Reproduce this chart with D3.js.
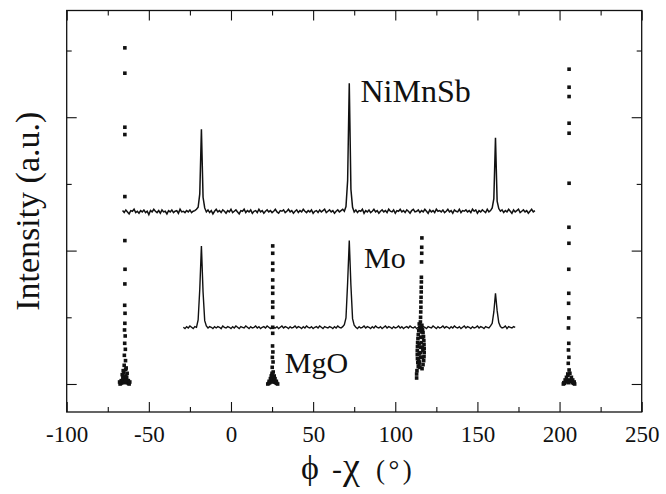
<!DOCTYPE html>
<html>
<head>
<meta charset="utf-8">
<script src="https://cdn.jsdelivr.net/npm/d3@7"></script>
<style>
  body { margin: 0; background: #fff; }
  svg { display: block; }
  svg text { font-family: "Liberation Serif", "DejaVu Serif", serif; fill: #111; }
</style>
</head>
<body>
<div class="chart"></div>
<script>
// NiMnSb scan: phi-chi from -66 to 185 in 1 degree steps
var niStart = -66, niStep = 1;
var niMnSb = [
  2.60, 2.57, 2.61, 2.58, 2.55, 2.60, 2.59, 2.62, 2.57, 2.59,
  2.56, 2.60, 2.58, 2.61, 2.57, 2.59, 2.54, 2.60, 2.58, 2.62,
  2.59, 2.57, 2.60, 2.56, 2.61, 2.58, 2.59, 2.55, 2.60, 2.58,
  2.61, 2.57, 2.59, 2.60, 2.56, 2.62, 2.58, 2.59, 2.57, 2.60,
  2.58, 2.61, 2.57, 2.59, 2.60, 2.62, 2.65, 2.85, 3.82, 2.80,
  2.64, 2.58, 2.61, 2.57, 2.60, 2.55, 2.59, 2.62, 2.58, 2.60,
  2.57, 2.61, 2.59, 2.56, 2.60, 2.58, 2.62, 2.57, 2.59, 2.61,
  2.58, 2.55, 2.60, 2.59, 2.62, 2.57, 2.60, 2.58, 2.61, 2.56,
  2.59, 2.60, 2.57, 2.62, 2.58, 2.60, 2.56, 2.59, 2.61, 2.58,
  2.60, 2.57, 2.59, 2.62, 2.58, 2.56, 2.60, 2.59, 2.61, 2.57,
  2.59, 2.62, 2.58, 2.60, 2.56, 2.59, 2.61, 2.57, 2.60, 2.58,
  2.62, 2.59, 2.57, 2.60, 2.58, 2.61, 2.56, 2.59, 2.60, 2.57,
  2.61, 2.58, 2.60, 2.62, 2.57, 2.59, 2.61, 2.58, 2.60, 2.56,
  2.59, 2.61, 2.58, 2.60, 2.62, 2.59, 2.66, 3.05, 4.51, 2.92,
  2.65, 2.58, 2.61, 2.57, 2.60, 2.59, 2.62, 2.56, 2.60, 2.58,
  2.61, 2.57, 2.59, 2.62, 2.58, 2.60, 2.56, 2.59, 2.61, 2.58,
  2.60, 2.57, 2.62, 2.59, 2.58, 2.61, 2.56, 2.60, 2.59, 2.62,
  2.58, 2.60, 2.57, 2.61, 2.59, 2.56, 2.60, 2.62, 2.58, 2.59,
  2.61, 2.57, 2.60, 2.58, 2.62, 2.59, 2.56, 2.61, 2.58, 2.60,
  2.57, 2.62, 2.59, 2.60, 2.58, 2.61, 2.57, 2.59, 2.62, 2.58,
  2.60, 2.56, 2.61, 2.59, 2.58, 2.62, 2.57, 2.60, 2.59, 2.61,
  2.58, 2.60, 2.57, 2.62, 2.59, 2.61, 2.56, 2.60, 2.58, 2.61,
  2.59, 2.57, 2.62, 2.58, 2.60, 2.64, 2.78, 3.69, 2.74, 2.63,
  2.59, 2.61, 2.57, 2.60, 2.58, 2.62, 2.59, 2.56, 2.61, 2.58,
  2.60, 2.62, 2.57, 2.59, 2.61, 2.58, 2.60, 2.56, 2.59, 2.62,
  2.58, 2.60
];

// Mo scan: phi-chi from -29 to 173 in 1 degree steps
var moStart = -29, moStep = 1;
var mo = [
  0.85, 0.83, 0.86, 0.84, 0.87, 0.85, 0.83, 0.86, 0.85, 0.96,
  1.42, 2.07, 1.38, 0.95, 0.87, 0.84, 0.86, 0.85, 0.83, 0.86,
  0.84, 0.86, 0.85, 0.83, 0.87, 0.85, 0.84, 0.86, 0.85, 0.83,
  0.86, 0.84, 0.87, 0.85, 0.83, 0.86, 0.85, 0.84, 0.87, 0.85,
  0.83, 0.86, 0.84, 0.85, 0.87, 0.84, 0.86, 0.83, 0.85, 0.86,
  0.84, 0.87, 0.85, 0.83, 0.86, 0.85, 0.84, 0.86, 0.83, 0.85,
  0.87, 0.84, 0.86, 0.85, 0.83, 0.86, 0.84, 0.85, 0.87, 0.84,
  0.86, 0.85, 0.83, 0.86, 0.84, 0.87, 0.85, 0.84, 0.86, 0.83,
  0.85, 0.86, 0.84, 0.87, 0.85, 0.83, 0.86, 0.85, 0.84, 0.86,
  0.85, 0.83, 0.86, 0.84, 0.87, 0.85, 0.84, 0.86, 0.89, 0.99,
  1.52, 2.15, 1.48, 0.98, 0.88, 0.85, 0.83, 0.86, 0.84, 0.85,
  0.87, 0.84, 0.86, 0.85, 0.83, 0.86, 0.84, 0.87, 0.85, 0.84,
  0.86, 0.83, 0.85, 0.87, 0.84, 0.86, 0.85, 0.83, 0.86, 0.84,
  0.85, 0.87, 0.84, 0.86, 0.83, 0.85, 0.86, 0.84, 0.87, 0.85,
  0.84, 0.86, 0.83, 0.85, 0.87, 0.84, 0.86, 0.85, 0.83, 0.86,
  0.85, 0.84, 0.87, 0.85, 0.83, 0.86, 0.84, 0.85, 0.87, 0.84,
  0.86, 0.85, 0.83, 0.86, 0.84, 0.87, 0.85, 0.84, 0.86, 0.83,
  0.85, 0.87, 0.84, 0.86, 0.85, 0.83, 0.86, 0.84, 0.85, 0.87,
  0.84, 0.86, 0.85, 0.83, 0.86, 0.85, 0.84, 0.87, 0.91, 1.08,
  1.36, 1.10, 0.92, 0.86, 0.84, 0.85, 0.87, 0.83, 0.86, 0.85,
  0.84, 0.86, 0.85
];

// MgO substrate peaks (square symbols)
var mgoPhi = [
  // near -65
  -64.6, -64.6, -64.6, -64.6, -64.6, -64.6, -64.5, -64.6, -64.7, -64.5,
  -64.6, -64.8, -64.4, -64.7, -64.3, -64.9, -64.2, -65.0, -64.1, -65.2,
  -64.0, -65.5, -63.7, -66.0, -63.3, -66.5, -62.9, -67.0, -62.5, -67.5, -62.0,
  -66.8, -65.8, -63.5, -62.5, -67.8, -61.6, -65.0, -64.0, -66.2, -63.2, -65.6, -63.8,
  // near 25
  25.4, 25.4, 25.4, 25.4, 25.4, 25.4, 25.4, 25.4, 25.4, 25.4,
  25.4, 25.4, 25.3, 25.5, 25.2, 25.6, 25.1, 25.7, 24.9, 25.9,
  24.6, 26.2, 24.2, 26.6, 23.6, 27.2, 23.0, 27.8, 22.4, 28.4,
  24.0, 26.8, 24.5, 26.3, 25.0, 23.2, 27.6, 25.4,
  // near 115
  116.2, 116.1, 116.1, 116.0, 115.9, 115.9, 115.8, 115.8, 115.7, 115.6,
  115.6, 115.5, 115.4, 115.3, 114.6, 116.2, 115.0, 116.6, 114.3, 116.9,
  114.0, 117.2, 113.8, 117.4, 113.6, 117.5, 113.5, 117.6, 113.4, 117.6,
  113.4, 117.5, 113.5, 117.3, 113.7, 116.9, 114.0, 116.3, 113.2, 113.0,
  113.0, 115.5, 115.5, 115.5, 115.8, 115.2, 114.8, 116.2,
  114.5, 116.5, 114.5, 116.5, 114.5, 116.5, 115.0, 115.5, 114.2, 116.8,
  // near 205
  205.8, 205.8, 205.8, 205.8, 205.8, 205.8, 205.7, 205.7, 205.6, 205.6,
  205.5, 205.6, 205.4, 205.6, 205.4, 205.7, 205.3, 205.8, 205.1, 206.0,
  204.6, 207.0, 203.8, 207.8, 203.0, 208.6, 202.3, 209.2, 205.5,
  204.2, 207.2, 203.4, 208.0, 205.0, 206.3, 202.6, 208.9
];
var mgoInt = [
  5.04, 4.66, 3.85, 3.74, 2.81, 2.15, 1.72, 1.50, 1.18, 1.06,
  0.91, 0.81, 0.72, 0.61, 0.52, 0.43, 0.35, 0.28, 0.22, 0.17,
  0.12, 0.08, 0.06, 0.04, 0.03, 0.02, 0.02, 0.01, 0.01, 0.00, 0.00,
  0.05, 0.10, 0.10, 0.05, 0.03, 0.03, 0.02, 0.05, 0.14, 0.16, 0.20, 0.24,
  2.07, 1.96, 1.81, 1.71, 1.56, 1.45, 1.36, 1.23, 1.15, 1.00,
  0.85, 0.76, 0.57, 0.48, 0.40, 0.33, 0.25, 0.18, 0.13, 0.10,
  0.07, 0.06, 0.04, 0.03, 0.02, 0.02, 0.01, 0.01, 0.00, 0.00,
  0.08, 0.08, 0.12, 0.12, 0.16, 0.04, 0.04, 0.03,
  2.19, 2.05, 1.96, 1.83, 1.60, 1.53, 1.45, 1.38, 1.30, 1.23,
  1.15, 1.08, 1.00, 0.93, 0.90, 0.88, 0.85, 0.82, 0.80, 0.77,
  0.74, 0.71, 0.68, 0.65, 0.62, 0.59, 0.56, 0.53, 0.50, 0.47,
  0.44, 0.41, 0.38, 0.35, 0.32, 0.29, 0.26, 0.23, 0.20, 0.15,
  0.09, 0.70, 0.55, 0.40, 0.62, 0.47, 0.33, 0.78,
  0.60, 0.55, 0.45, 0.40, 0.30, 0.70, 0.25, 0.80, 0.36, 0.50,
  4.72, 4.45, 4.31, 3.91, 3.76, 3.01, 2.35, 2.11, 1.72, 1.36,
  1.21, 0.99, 0.84, 0.61, 0.51, 0.40, 0.31, 0.21, 0.13, 0.06,
  0.05, 0.04, 0.03, 0.02, 0.01, 0.01, 0.00, 0.00, 0.02,
  0.10, 0.10, 0.06, 0.06, 0.15, 0.16, 0.02, 0.03
];

var xMajor = [-100, -50, 0, 50, 100, 150, 200, 250];
var xMinor = [-75, -25, 25, 75, 125, 175, 225];
var yMajor = [0, 2, 4];
var yMinor = [1, 3, 5];

var labels = [
  {text: "NiMnSb", x: 78.8, y: 4.23, size: 32},
  {text: "Mo", x: 81, y: 1.74, size: 30},
  {text: "MgO", x: 32.8, y: 0.16, size: 30}
];

var serif = '"Liberation Serif", "DejaVu Serif", serif';

var width = 666, height = 494;
var margin = {top: 10.5, right: 24.3, bottom: 82, left: 66.7};

var svg = d3.select(".chart").append("svg")
    .attr("width", width)
    .attr("height", height);

var x = d3.scaleLinear()
    .domain([-100, 250])
    .range([margin.left, width - margin.right]);

var y = d3.scaleLinear()
    .domain([-0.42, 5.6])
    .range([height - margin.bottom, margin.top]);

// build point lists for the scans
function scan(start, step, values) {
    return values.map(function (v, i) { return [start + i * step, v]; });
}

var line = d3.line()
    .x(function (d) { return x(d[0]); })
    .y(function (d) { return y(d[1]); });

svg.append("path")
    .datum(scan(niStart, niStep, niMnSb))
    .attr("d", line)
    .attr("fill", "none")
    .attr("stroke", "#111")
    .attr("stroke-width", 1.5);

svg.append("path")
    .datum(scan(moStart, moStep, mo))
    .attr("d", line)
    .attr("fill", "none")
    .attr("stroke", "#111")
    .attr("stroke-width", 1.4);

// MgO squares
var sq = 3.6;
svg.append("g").selectAll("rect")
    .data(mgoPhi.map(function (p, i) { return [p, mgoInt[i]]; }))
    .enter().append("rect")
    .attr("x", function (d) { return x(d[0]) - sq / 2; })
    .attr("y", function (d) { return y(d[1]) - sq / 2; })
    .attr("width", sq)
    .attr("height", sq)
    .attr("fill", "#111");

// Axes, ticks pointing inward on all four sides
var yb = y.range()[0], yt = y.range()[1];
var xl = x.range()[0], xr = x.range()[1];

function clean(g) {
    g.attr("font-family", serif);
    g.select(".domain").remove();
    g.selectAll("line").attr("stroke", "#111").attr("stroke-width", 1.1);
}

svg.append("g")
    .attr("transform", "translate(0," + yb + ")")
    .call(d3.axisBottom(x).tickValues(xMajor).tickSize(-10).tickSizeOuter(0)
        .tickPadding(14).tickFormat(function (d) { return String(d); }))
    .call(clean)
    .selectAll("text")
    .attr("font-family", serif)
    .attr("font-size", 23)
    .attr("fill", "#111");

svg.append("g")
    .attr("transform", "translate(0," + yb + ")")
    .call(d3.axisBottom(x).tickValues(xMinor).tickSize(-5).tickFormat(""))
    .call(clean);

svg.append("g")
    .attr("transform", "translate(0," + yt + ")")
    .call(d3.axisTop(x).tickValues(xMajor).tickSize(-10).tickFormat(""))
    .call(clean);

svg.append("g")
    .attr("transform", "translate(0," + yt + ")")
    .call(d3.axisTop(x).tickValues(xMinor).tickSize(-5).tickFormat(""))
    .call(clean);

svg.append("g")
    .attr("transform", "translate(" + xl + ",0)")
    .call(d3.axisLeft(y).tickValues(yMajor).tickSize(-10).tickFormat(""))
    .call(clean);

svg.append("g")
    .attr("transform", "translate(" + xl + ",0)")
    .call(d3.axisLeft(y).tickValues(yMinor).tickSize(-5).tickFormat(""))
    .call(clean);

svg.append("g")
    .attr("transform", "translate(" + xr + ",0)")
    .call(d3.axisRight(y).tickValues(yMajor).tickSize(-10).tickFormat(""))
    .call(clean);

svg.append("g")
    .attr("transform", "translate(" + xr + ",0)")
    .call(d3.axisRight(y).tickValues(yMinor).tickSize(-5).tickFormat(""))
    .call(clean);

// Frame
svg.append("rect")
    .attr("x", xl)
    .attr("y", yt)
    .attr("width", xr - xl)
    .attr("height", yb - yt)
    .attr("fill", "none")
    .attr("stroke", "#111")
    .attr("stroke-width", 1.3);

// Series labels
svg.append("g").selectAll("text")
    .data(labels)
    .enter().append("text")
    .attr("x", function (d) { return x(d.x); })
    .attr("y", function (d) { return y(d.y); })
    .attr("font-family", serif)
    .attr("font-size", function (d) { return d.size; })
    .text(function (d) { return d.text; });

// Axis titles
var xt = svg.append("text")
    .attr("y", 479)
    .attr("font-family", serif);
xt.append("tspan").attr("x", 301).attr("font-size", 34).text("\u03d5");
xt.append("tspan").attr("x", 332).attr("font-size", 30).text("-");
xt.append("tspan").attr("x", 343).attr("font-size", 38).text("\u03c7");
xt.append("tspan").attr("x", 376).attr("font-size", 27)
    .attr("letter-spacing", 3.5).text("(\u00b0)");

svg.append("text")
    .attr("transform", "translate(39," + ((yb + yt) / 2) + ") rotate(-90)")
    .attr("text-anchor", "middle")
    .attr("font-family", serif)
    .attr("font-size", 34)
    .text("Intensity (a.u.)");
</script>
</body>
</html>
